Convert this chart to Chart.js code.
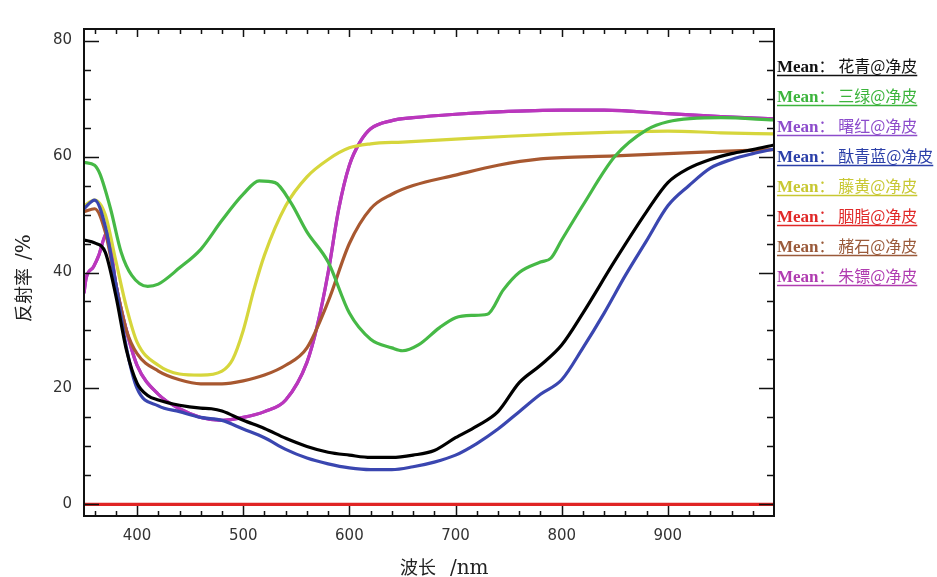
<!DOCTYPE html>
<html>
<head>
<meta charset="utf-8">
<script src="https://cdn.jsdelivr.net/npm/chart.js@4.4.1/dist/chart.umd.min.js"></script>
<style>
  body { margin: 0; background: #fff; }
</style>
</head>
<body>
<canvas id="myChart" width="937" height="577"></canvas>
<script>
// wavelength ticks / reflectance ticks
const xTicks = [400, 500, 600, 700, 800, 900];
const yTicks = [0, 20, 40, 60, 80];

// series names (legend order)
const seriesNames = ['花青', '三绿', '曙红', '酞青蓝', '藤黄', '胭脂', '赭石', '朱镖'];
const seriesColors = ['#000000', '#46b946', '#9048c0', '#3a46b0', '#d6d63c', '#e02424', '#a85830', '#bc36bc'];
const legendColors = ['#111111', '#3cb43c', '#8c4ccc', '#2b3fa8', '#c8c832', '#e02828', '#9a5a3a', '#b03cb0'];

// 花青
const nmHuaqing = [350,360,370,380,390,400,410,420,440,460,470,480,500,520,540,560,580,600,620,640,660,680,700,720,740,760,780,800,820,850,880,900,920,940,960,980,1000];
const valHuaqing = [45.6,45.1,43.5,36,26.6,20.9,18.8,18,17.1,16.6,16.5,16.1,14.5,13.1,11.4,10,9,8.5,8.1,8.1,8.5,9.3,11.5,13.5,16,21,24,27.5,33,42,50.5,55.5,58,59.5,60.5,61.2,62];

// 三绿
const nmSanlv = [350,360,365,375,385,395,410,420,440,460,480,500,515,530,545,560,580,600,620,640,650,665,685,700,715,730,745,760,780,790,800,820,850,880,900,950,1000];
const valSanlv = [59,58.5,57,51,43.5,39.5,37.6,38,40.8,44,49,53.5,55.8,55.5,52,47,41.8,33,28.5,27,26.5,27.5,30.5,32.2,32.6,32.8,37,40,41.8,42.5,45.6,51.6,60,64.6,66,66.7,66.3];

// 朱镖 (曙红 lies underneath it)
const nmZhubiao = [350,352,359,364,369,372,380,390,400,420,440,460,480,500,520,540,560,570,580,590,600,610,620,640,660,700,740,800,840,900,950,1000];
const valZhubiao = [36.4,39,41,43,46,47,38,30,24,19,16.5,15,14.5,15,16,18,24.5,31,40,51,58.5,62.5,64.8,66.2,66.7,67.3,67.7,68,68,67.4,66.9,66.5];
const nmShuhong = nmZhubiao;
const valShuhong = valZhubiao;

// 酞青蓝
const nmTaiqing = [350,360,370,380,390,400,420,440,460,480,500,520,540,560,580,600,620,640,660,680,700,720,740,760,780,800,820,840,860,880,900,920,940,960,980,1000];
const valTaiqing = [51,52.5,48,38,27,20,17,16,15,14.5,13,11.5,9.5,8,7,6.3,6,6,6.5,7.3,8.5,10.5,13,16,19,21.5,27,33,39.5,45.5,51.5,55,58,59.5,60.5,61.3];

// 藤黄
const nmTenghuang = [350,360,370,380,390,400,420,440,460,480,490,500,510,520,540,560,580,600,620,650,700,750,800,850,900,950,1000];
const valTenghuang = [51.5,52.5,50,42,34,28,24,22.5,22.3,23,25,30,37,43,51.5,56.5,59.5,61.5,62.2,62.5,63,63.5,63.9,64.2,64.4,64.1,63.9];

// 胭脂
const nmYanzhi = [350,1000];
const valYanzhi = [0,0];

// 赭石
const nmZheshi = [350,360,370,380,390,400,420,440,460,480,500,520,540,560,580,600,620,640,660,700,740,780,800,850,900,950,1000];
const valZheshi = [50.5,51,47,38,30,26,23,21.5,20.8,20.8,21.3,22.3,24,27,35,45,51,53.5,55,56.8,58.5,59.6,59.8,60.1,60.5,60.9,61.2];

const seriesNm = [nmHuaqing, nmSanlv, nmShuhong, nmTaiqing, nmTenghuang, nmYanzhi, nmZheshi, nmZhubiao];
const seriesVal = [valHuaqing, valSanlv, valShuhong, valTaiqing, valTenghuang, valYanzhi, valZheshi, valZhubiao];

const toPoints = (xs, ys) => xs.map((x, i) => ({ x: x, y: ys[i] }));

// frame, inward ticks, axis titles and right-hand legend
const framePlugin = {
    id: 'frame',
    afterDraw(chart) {
        const { ctx, chartArea: a, scales: { x, y } } = chart;
        ctx.save();
        ctx.strokeStyle = '#111';
        ctx.lineWidth = 2;
        ctx.strokeRect(a.left, a.top, a.right - a.left, a.bottom - a.top);
        ctx.lineWidth = 1.5;
        ctx.beginPath();
        for (let v = 360; v < 1000; v += 20) {
            const px = Math.round(x.getPixelForValue(v)) + 0.5;
            const major = v % 100 === 0;
            ctx.moveTo(px, a.bottom); ctx.lineTo(px, a.bottom - (major ? 10 : 5));
            ctx.moveTo(px, a.top); ctx.lineTo(px, a.top + (major ? 8 : 5));
        }
        for (let v = 0; v <= 80; v += 5) {
            const py = Math.round(y.getPixelForValue(v)) + 0.5;
            const major = v % 20 === 0;
            ctx.moveTo(a.left, py); ctx.lineTo(a.left + (major ? 15 : 7), py);
            ctx.moveTo(a.right, py); ctx.lineTo(a.right - (major ? 15 : 7), py);
        }
        ctx.stroke();

        // axis titles
        ctx.fillStyle = '#222';
        ctx.textBaseline = 'alphabetic';
        ctx.textAlign = 'left';
        ctx.font = '18px "Noto Sans CJK SC"';
        ctx.fillText('波长', 400, 574);
        ctx.font = '20px "DejaVu Serif"';
        ctx.fillText('/nm', 450, 574);

        ctx.save();
        ctx.translate(30, 322);
        ctx.rotate(-Math.PI / 2);
        ctx.font = '18px "Noto Sans CJK SC"';
        ctx.fillText('反射率', 0, 0);
        ctx.font = '20px "DejaVu Serif"';
        ctx.fillText('/%', 62, 0);
        ctx.restore();

        // legend
        const lx = a.right + 3;
        seriesNames.forEach((name, i) => {
            const ly = 72 + i * 30;
            ctx.fillStyle = legendColors[i];
            ctx.strokeStyle = legendColors[i];
            ctx.font = 'bold 17px "Liberation Serif"';
            ctx.fillText('Mean', lx, ly);
            let w = ctx.measureText('Mean').width;
            ctx.font = '16px "Noto Sans CJK SC"';
            const rest = '： ' + name + '@净皮';
            ctx.fillText(rest, lx + w, ly);
            w += ctx.measureText(rest).width;
            ctx.lineWidth = 1.5;
            ctx.beginPath();
            ctx.moveTo(lx, ly + 3.5); ctx.lineTo(lx + w, ly + 3.5);
            ctx.stroke();
        });
        ctx.restore();
    }
};

const ctx = document.getElementById('myChart').getContext('2d');
new Chart(ctx, {
    type: 'line',
    data: {
        datasets: seriesNames.map((name, i) => ({
            label: 'Mean：' + name + '@净皮',
            data: toPoints(seriesNm[i], seriesVal[i]),
            borderColor: seriesColors[i],
            borderWidth: 3.2,
            pointRadius: 0,
            fill: false,
            cubicInterpolationMode: 'monotone',
            order: i === 2 ? 10 : i
        }))
    },
    options: {
        responsive: false,
        animation: false,
        layout: { padding: { top: 29, right: 163, left: 0, bottom: 0 } },
        plugins: {
            legend: { display: false },
            tooltip: { enabled: false }
        },
        scales: {
            x: {
                type: 'linear',
                min: 350,
                max: 1000,
                grid: { display: false, drawTicks: false, tickLength: 0 },
                border: { display: false },
                afterBuildTicks: s => { s.ticks = xTicks.map(v => ({ value: v })); },
                afterFit: s => { s.height = 61; },
                ticks: {
                    padding: 11,
                    color: '#333',
                    font: { family: 'DejaVu Sans', size: 15 },
                    maxRotation: 0
                }
            },
            y: {
                type: 'linear',
                min: -2,
                max: 82,
                grid: { display: false, drawTicks: false, tickLength: 0 },
                border: { display: false },
                afterBuildTicks: s => { s.ticks = yTicks.map(v => ({ value: v })); },
                afterFit: s => { s.width = 84; },
                ticks: {
                    padding: 12,
                    color: '#333',
                    font: { family: 'DejaVu Sans', size: 15 }
                }
            }
        }
    },
    plugins: [framePlugin]
});
</script>
</body>
</html>
